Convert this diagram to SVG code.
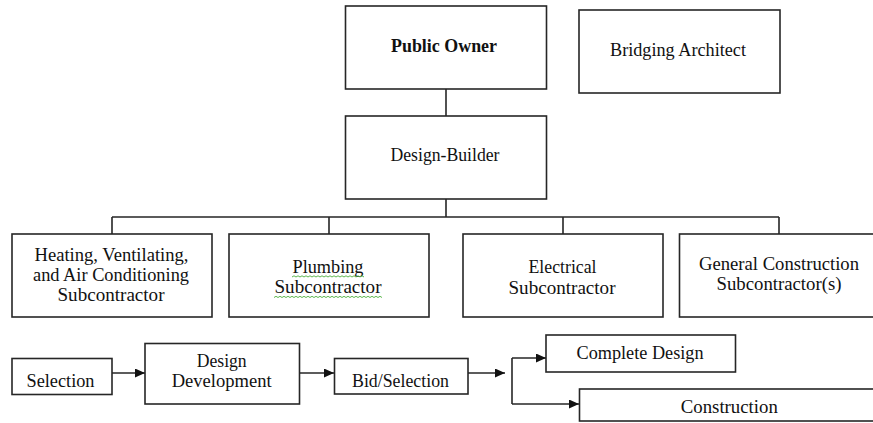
<svg xmlns="http://www.w3.org/2000/svg" width="873" height="423" viewBox="0 0 873 423">
<style>
.box{fill:#fff;stroke:#262626;stroke-width:1.6}
.ln{fill:none;stroke:#262626;stroke-width:1.6}
text{font-family:'Liberation Serif','Times New Roman',serif;font-size:19px;fill:#111;text-anchor:middle}
.b{font-weight:bold}
.sq{fill:none;stroke:#4caf3c;stroke-width:0.9}
</style>
<defs>
<marker id="ah" markerWidth="10" markerHeight="9" refX="10" refY="4.5" orient="auto" markerUnits="userSpaceOnUse">
<path d="M0,0 L10,4.5 L0,9 Z" fill="#111"/>
</marker>
</defs>
<rect width="873" height="423" fill="#fff"/>
<g id="connectors">
<path class="ln" d="M446,89 V116"/>
<path class="ln" d="M446,199 V217 M112,217 H779 M112,217 V234 M329,217 V234 M563,217 V234 M779,217 V234"/>
<path class="ln" d="M112,373 H145" marker-end="url(#ah)"/>
<path class="ln" d="M299,373 H334" marker-end="url(#ah)"/>
<path class="ln" d="M468,373 H505" stroke="#555" marker-end="url(#ah)"/>
<path class="ln" d="M512,358 V404"/>
<path class="ln" d="M512,358 H546" marker-end="url(#ah)"/>
<path class="ln" d="M512,404 H579" marker-end="url(#ah)"/>
</g>
<g id="public-owner">
<rect class="box" x="345.5" y="6" width="201" height="83"/>
<text class="b" x="444" y="52" textLength="106" lengthAdjust="spacingAndGlyphs">Public Owner</text>
</g>
<g id="bridging-architect">
<rect class="box" x="579" y="10" width="201" height="83"/>
<text x="678" y="56" textLength="136" lengthAdjust="spacingAndGlyphs">Bridging Architect</text>
</g>
<g id="design-builder">
<rect class="box" x="345.5" y="116" width="201" height="83"/>
<text x="445" y="161" textLength="109" lengthAdjust="spacingAndGlyphs">Design-Builder</text>
</g>
<g id="hvac">
<rect class="box" x="12" y="234" width="200" height="83"/>
<text x="111.5" y="260.5" textLength="154" lengthAdjust="spacingAndGlyphs">Heating, Ventilating,</text>
<text x="111" y="281" textLength="156" lengthAdjust="spacingAndGlyphs">and Air Conditioning</text>
<text x="111" y="301" textLength="107" lengthAdjust="spacingAndGlyphs">Subcontractor</text>
</g>
<g id="plumbing">
<rect class="box" x="229" y="234" width="200" height="83"/>
<text x="328" y="272.5" textLength="71" lengthAdjust="spacingAndGlyphs">Plumbing</text>
<text x="328" y="293" textLength="107" lengthAdjust="spacingAndGlyphs">Subcontractor</text>
<path class="sq" d="M292,277 l2,-1.2 2,1.2 2,-1.2 2,1.2 2,-1.2 2,1.2 2,-1.2 2,1.2 2,-1.2 2,1.2 2,-1.2 2,1.2 2,-1.2 2,1.2 2,-1.2 2,1.2 2,-1.2 2,1.2 2,-1.2 2,1.2 2,-1.2 2,1.2 2,-1.2 2,1.2 2,-1.2 2,1.2 2,-1.2 2,1.2 2,-1.2 2,1.2 2,-1.2 2,1.2 2,-1.2 2,1.2 2,-1.2 2,1.2"/>
<path class="sq" d="M274,297.5 l2,-1.2 2,1.2 2,-1.2 2,1.2 2,-1.2 2,1.2 2,-1.2 2,1.2 2,-1.2 2,1.2 2,-1.2 2,1.2 2,-1.2 2,1.2 2,-1.2 2,1.2 2,-1.2 2,1.2 2,-1.2 2,1.2 2,-1.2 2,1.2 2,-1.2 2,1.2 2,-1.2 2,1.2 2,-1.2 2,1.2 2,-1.2 2,1.2 2,-1.2 2,1.2 2,-1.2 2,1.2 2,-1.2 2,1.2 2,-1.2 2,1.2 2,-1.2 2,1.2 2,-1.2 2,1.2 2,-1.2 2,1.2 2,-1.2 2,1.2 2,-1.2 2,1.2 2,-1.2 2,1.2 2,-1.2 2,1.2 2,-1.2 2,1.2"/>
</g>
<g id="electrical">
<rect class="box" x="463" y="234" width="200" height="83"/>
<text x="562.5" y="273" textLength="68" lengthAdjust="spacingAndGlyphs">Electrical</text>
<text x="562" y="293.5" textLength="107" lengthAdjust="spacingAndGlyphs">Subcontractor</text>
</g>
<g id="general">
<rect class="box" x="679.5" y="234" width="201" height="83"/>
<text x="779" y="269.5" textLength="160" lengthAdjust="spacingAndGlyphs">General Construction</text>
<text x="779" y="290" textLength="125" lengthAdjust="spacingAndGlyphs">Subcontractor(s)</text>
</g>
<g id="selection">
<rect class="box" x="12" y="358.5" width="100" height="36"/>
<text x="60.5" y="387" textLength="68" lengthAdjust="spacingAndGlyphs">Selection</text>
</g>
<g id="design-development">
<rect class="box" x="145" y="343.5" width="154.5" height="60.5"/>
<text x="221.7" y="367" textLength="50" lengthAdjust="spacingAndGlyphs">Design</text>
<text x="221.7" y="387" textLength="100" lengthAdjust="spacingAndGlyphs">Development</text>
</g>
<g id="bid-selection">
<rect class="box" x="334.5" y="358.5" width="133.5" height="35.5"/>
<text x="400.5" y="386.7" textLength="97" lengthAdjust="spacingAndGlyphs">Bid/Selection</text>
</g>
<g id="complete-design">
<rect class="box" x="546" y="335" width="189.5" height="37"/>
<text x="640" y="359" textLength="127" lengthAdjust="spacingAndGlyphs">Complete Design</text>
</g>
<g id="construction">
<rect class="box" x="579.5" y="389" width="300" height="32"/>
<text x="729.3" y="412.7" textLength="97" lengthAdjust="spacingAndGlyphs">Construction</text>
</g>
</svg>
